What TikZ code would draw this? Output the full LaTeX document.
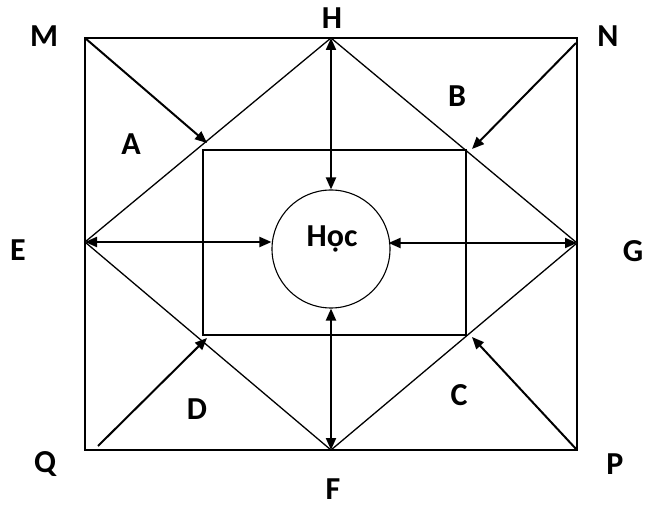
\documentclass[tikz,border=0pt]{standalone}
\usepackage{fontspec}
\setmainfont{Carlito}
\usetikzlibrary{arrows.meta}

\begin{document}
\begin{tikzpicture}[x=1pt,y=-1pt,
  frame/.style={line width=1.3pt},
  flow/.style={line width=2pt,-{Triangle[length=12pt,width=10pt]}},
  both/.style={line width=2pt,{Triangle[length=12pt,width=10pt]}-{Triangle[length=12pt,width=10pt]}},
  lbl/.style={font=\fontsize{32}{34}\selectfont\bfseries,inner sep=0pt}]
  \useasboundingbox (0,0) rectangle (657,508);
  % corners and midpoints of the outer frame
  \coordinate (M) at (85,38);
  \coordinate (N) at (577,38);
  \coordinate (P) at (577,450);
  \coordinate (Q) at (85,450);
  \coordinate (H) at (331,38);
  \coordinate (F) at (331,450);
  \coordinate (E) at (85,242);
  \coordinate (G) at (577,243);
  \draw[frame] (M) rectangle (P);
  \draw[frame] (H) -- (E) -- (F) -- (G) -- cycle;
  % inner frame
  \coordinate (r1) at (203,150);
  \coordinate (r2) at (466,335);
  \draw[frame] (r1) rectangle (r2);
  \node[draw,circle,line width=1.1pt,minimum size=118pt,inner sep=0pt] (hoc) at (331,249) {};
  \node[lbl] (hoctxt) at (332,239) {Học};
  % arrows
  \draw[both] (H) -- (hoc.north);
  \draw[both] (F) -- (hoc.south);
  \draw[both] (E) -- (E -| hoc.west);
  \draw[both] (G) -- ([xshift=-2pt]G -| hoc.east);
  \coordinate (tA) at (207,143);
  \coordinate (sB) at (576,43);
  \coordinate (tB) at (472,149);
  \coordinate (tC) at (472,337);
  \coordinate (sD) at (98,446);
  \coordinate (tD) at (207,338);
  \draw[flow] (M) -- (tA);
  \draw[flow] (sB) -- (tB);
  \draw[flow] (P) -- (tC);
  \draw[flow] (sD) -- (tD);
  % letters
  \foreach \n/\x/\y/\t in {lM/44/36/M, lN/608/36/N, lH/332/18/H, lE/18/250/E,
      lG/633/251/G, lQ/45/464/Q, lP/615/464/P, lF/333/489/F,
      lA/131/144/A, lB/457/96/B, lC/459/395/C, lD/197/409/D}
    \node[lbl] (\n) at (\x,\y) {\t};
\end{tikzpicture}
\end{document}
